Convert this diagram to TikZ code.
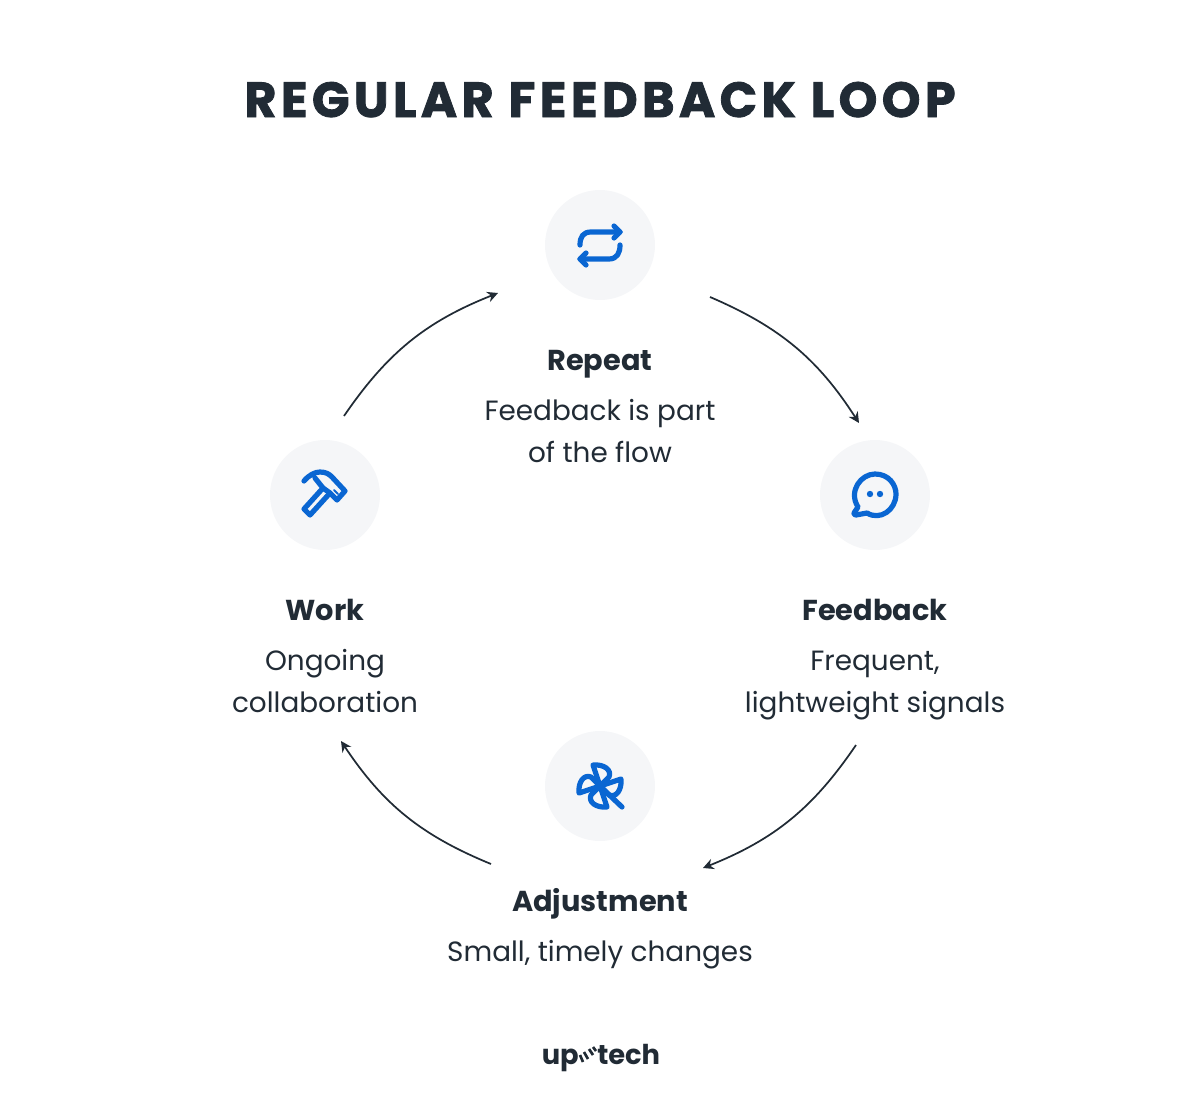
\documentclass[tikz,border=0pt]{standalone}
\usepackage{fontspec}
\setmainfont{Poppins}
\newfontfamily\titlefont[LetterSpace=8.8,FakeBold=1.6]{Poppins}
\usetikzlibrary{arrows.meta, positioning}

\definecolor{inkdark}{HTML}{212B35}
\definecolor{iconblue}{HTML}{0A66D2}
\definecolor{discgray}{HTML}{F5F6F8}

\begin{document}
\begin{tikzpicture}[x=0.75pt, y=-0.75pt,
    disc/.style={circle, fill=discgray, minimum size=82.5pt, inner sep=0pt},
    head/.style={text=inkdark, anchor=base, inner sep=0pt, font=\fontsize{21.6}{24}\selectfont\bfseries},
    body/.style={text=inkdark, anchor=base, inner sep=0pt, align=center, font=\fontsize{20.9}{31.5}\selectfont},
    flow/.style={-{Stealth[length=8pt, width=8pt]}, draw=inkdark, line width=1.3pt},
    glyph/.style={draw=iconblue, line width=3.9pt, line cap=round, line join=round},
    spot/.style={fill=iconblue},
    logotext/.style={text=inkdark, inner sep=0pt, font=\fontsize{20.5}{24}\selectfont\bfseries}
]
\useasboundingbox (0,0) rectangle (1200,1103);

% Title
\node[text=inkdark, anchor=base, inner sep=0pt, font=\fontsize{37}{42}\selectfont\titlefont\bfseries] (title) at (600,117) {REGULAR FEEDBACK LOOP};

% Discs
\node[disc] (repeat) at (600,245) {};
\node[disc] (feedback) at (875,495) {};
\node[disc] (adjust) at (600,786) {};
\node[disc] (work) at (325,495) {};

% Labels
\node[head] (repeathead) at (600,370) {Repeat};
\node[body] (repeatbody) at (600,462) {Feedback is part\\of the flow};
\node[head] (feedbackhead) at (875,620) {Feedback};
\node[body] (feedbackbody) at (875,712) {Frequent,\\lightweight signals};
\node[head] (adjusthead) at (600,911) {Adjustment};
\node[body] (adjustbody) at (600,961) {Small, timely changes};
\node[head] (workhead) at (325,620) {Work};
\node[body] (workbody) at (325,712) {Ongoing\\collaboration};

% Arc ends
\coordinate (rf0) at (710,297);
\coordinate (rf1) at (859,423);
\coordinate (fa0) at (856,745);
\coordinate (fa1) at (703,868);
\coordinate (aw0) at (491,864);
\coordinate (aw1) at (341,741);
\coordinate (wr0) at (344,416);
\coordinate (wr1) at (498,293);
\draw[flow] (rf0) to[bend left=17] (rf1);
\draw[flow] (fa0) to[bend left=17] (fa1);
\draw[flow] (aw0) to[bend left=17] (aw1);
\draw[flow] (wr0) to[bend left=17] (wr1);

% Repeat icon
\begin{scope}[shift={(600,245)}]
\draw[glyph] (-20,0) .. controls (-20,-8) and (-17,-13) .. (-9,-13) -- (20,-13);
\draw[glyph] (14,-19) -- (20,-13) -- (14,-7);
\draw[glyph] (20,0) .. controls (20,8) and (17,14) .. (9,14) -- (-20,14);
\draw[glyph] (-14,8) -- (-20,14) -- (-14,20);
\end{scope}

% Feedback icon
\begin{scope}[shift={(875,495)}]
\draw[glyph] (-17,12) .. controls (-27,-4) and (-14,-21) .. (0,-21)
    .. controls (14,-21) and (21,-10) .. (21,-1)
    .. controls (21,15) and (5,26) .. (-8,18) -- (-19,20) .. controls (-21,20) and (-21,19) .. (-21,18) -- cycle;
\fill[spot] (-5,-1) circle (3.2);
\fill[spot] (5,-1) circle (3.2);
\end{scope}

% Adjustment icon
\begin{scope}[shift={(600,786)}]
\foreach \turn in {0,90,180,270} {
    \draw[glyph, rotate=\turn] (0,0) -- (-7,-21) .. controls (4,-22) and (12,-16) .. (9,-9) -- (0,0);
}
\draw[glyph] (2,2) -- (22,21);
\end{scope}

% Work icon
\begin{scope}[shift={(325,495)}]
\draw[glyph] (-21,-14) .. controls (-16,-20) and (-10,-23) .. (-5,-23) .. controls (1,-23) and (4,-21) .. (7,-18)
    -- (20,-4) -- (12,5) -- (5,-2) -- (-15,20) -- (-21,14) -- (-2,-7) -- (-10,-17);
\draw[glyph] (5,-2) -- (-2,-7);
\draw[glyph, line width=1.5pt] (9,-5) -- (13,-1);
\end{scope}

% Logo
\node[logotext, anchor=base east] (logoup) at (579,1064) {up};
\node[logotext, anchor=base west] (logotech) at (597,1064) {tech};
\draw[inkdark, line width=2pt] (580,1055) -- (583,1062) (584,1052) -- (588,1059) (589,1049) -- (593,1055) (593,1047) -- (596,1051);

\end{tikzpicture}
\end{document}
